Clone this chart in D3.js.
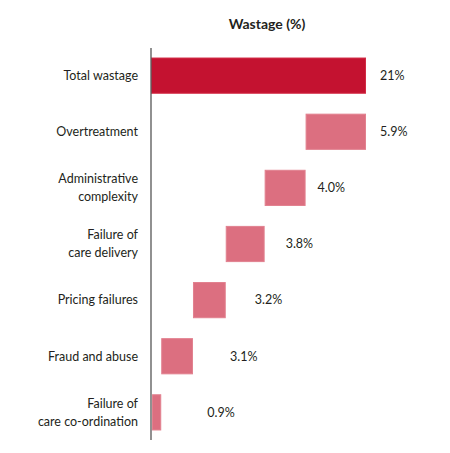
<!DOCTYPE html>
<html>
<head>
<meta charset="utf-8">
<script src="https://cdn.jsdelivr.net/npm/d3@7"></script>
<style>
  html, body { margin: 0; padding: 0; background: #fff; }
  svg { display: block; }
  text { font-family: "Lato", "Open Sans", sans-serif; fill: #231f20; }
</style>
</head>
<body>
<svg id="chart" width="450" height="453"></svg>
<script>
// ---- data ----
const categories = [
  "Total wastage",
  "Overtreatment",
  "Administrative complexity",
  "Failure of care delivery",
  "Pricing failures",
  "Fraud and abuse",
  "Failure of care co-ordination"
];
const categoryLines = [
  ["Total wastage"],
  ["Overtreatment"],
  ["Administrative", "complexity"],
  ["Failure of", "care delivery"],
  ["Pricing failures"],
  ["Fraud and abuse"],
  ["Failure of", "care co-ordination"]
];
const values = [21, 5.9, 4.0, 3.8, 3.2, 3.1, 0.9];
const valueLabels = ["21%", "5.9%", "4.0%", "3.8%", "3.2%", "3.1%", "0.9%"];
const title = "Wastage (%)";

// ---- layout ----
const svg = d3.select("#chart");
const axisX = 151;
const x = d3.scaleLinear().domain([0, 21]).range([axisX, 366]);
const y = d3.scaleBand().domain(categories).range([48, 440]).paddingInner(0.355).paddingOuter(0.17);

// waterfall: total from 0; components stacked down from total
let rows = [];
let end = values[0];
rows.push({ cat: categories[0], x0: 0, x1: values[0], total: true, i: 0 });
for (let i = 1; i < values.length; i++) {
  const x1 = end;
  const x0 = Math.max(0, end - values[i]);
  rows.push({ cat: categories[i], x0, x1, total: false, i });
  end = x0;
}

// label gaps from bar end (styling)
const labelGap = [14, 14, 12, 21, 29, 37, 46];

svg.append("text")
  .attr("x", 267).attr("y", 29)
  .attr("text-anchor", "middle")
  .attr("font-size", 14).attr("font-weight", "bold")
  .text(title);

svg.selectAll("rect.bar").data(rows).join("rect")
  .attr("class", "bar")
  .attr("x", d => x(d.x0) + 0.5)
  .attr("y", d => y(d.cat) + 0.5)
  .attr("width", d => x(d.x1) - x(d.x0) - 1)
  .attr("height", y.bandwidth() - 1)
  .attr("fill", d => d.total ? "#c41230" : "#dc6f80")
  .attr("stroke", d => d.total ? "#d22a44" : "#e2818f")
  .attr("stroke-width", 1);

// axis line
svg.append("line")
  .attr("x1", axisX).attr("x2", axisX)
  .attr("y1", 48).attr("y2", 440)
  .attr("stroke", "#555").attr("stroke-width", 1.3);

// category labels
const lab = svg.selectAll("text.cat").data(rows).join("text")
  .attr("class", "cat")
  .attr("text-anchor", "end")
  .attr("font-size", 12.5);
lab.each(function(d) {
  const lines = categoryLines[d.i];
  const cy = y(d.cat) + y.bandwidth() / 2;
  const lh = 18;
  const t = d3.select(this);
  lines.forEach((ln, k) => {
    t.append("tspan")
      .attr("x", 138)
      .attr("y", cy + (k - (lines.length - 1) / 2) * lh)
      .attr("dy", "0.35em")
      .text(ln);
  });
});

// value labels
svg.selectAll("text.val").data(rows).join("text")
  .attr("class", "val")
  .attr("x", d => x(d.x1) + labelGap[d.i])
  .attr("y", d => y(d.cat) + y.bandwidth() / 2)
  .attr("dy", "0.35em")
  .attr("font-size", 12.5)
  .text(d => valueLabels[d.i]);
</script>
</body>
</html>
